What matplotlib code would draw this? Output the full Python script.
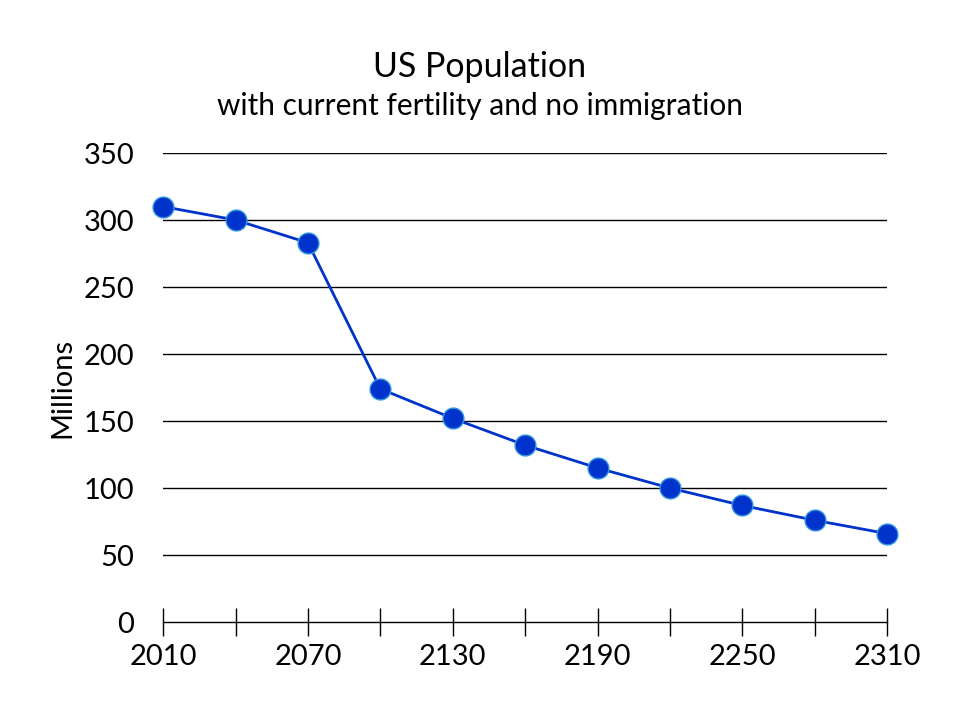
import matplotlib
matplotlib.use("Agg")
from matplotlib import pyplot as plt
from matplotlib.ticker import MultipleLocator

# Data
years = [2010, 2040, 2070, 2100, 2130, 2160, 2190, 2220, 2250, 2280, 2310]
population = [310, 300, 283, 174, 152, 132, 115, 100, 87, 76, 66]

plt.rcParams['font.family'] = ['Lato', 'DejaVu Sans']

fig = plt.figure(figsize=(9.6, 7.2), dpi=100)
ax = fig.add_axes([0.170, 0.136, 0.754, 0.6515])

ax.plot(years, population, color='#0033CC', lw=2.0, marker='o', ms=15,
        markerfacecolor='#0033CC', markeredgecolor='#3399DD', markeredgewidth=1.0,
        zorder=3, clip_on=False)

ax.set_xlim(2010, 2310)
ax.set_ylim(0, 350)
ax.set_yticks(range(0, 351, 50))
ax.set_xticks(range(2010, 2311, 60))
ax.xaxis.set_minor_locator(MultipleLocator(30))

for v in range(50, 351, 50):
    ax.axhline(v, color='black', lw=1.0, zorder=1)

for s in ['top', 'right', 'left']:
    ax.spines[s].set_visible(False)
ax.spines['bottom'].set_linewidth(1.0)

ax.tick_params(axis='y', length=0, labelsize=21, pad=21)
ax.tick_params(axis='x', which='both', direction='inout', length=20, width=1.0,
               labelsize=21, pad=6)

ax.set_ylabel('Millions', fontsize=21)
ax.yaxis.set_label_coords(-0.122, 0.5)

fig.text(0.5, 0.893, 'US Population', ha='center', fontsize=24.5)
fig.text(0.5, 0.840, 'with current fertility and no immigration', ha='center', fontsize=21.5)

fig.savefig('out.png', dpi=100)
